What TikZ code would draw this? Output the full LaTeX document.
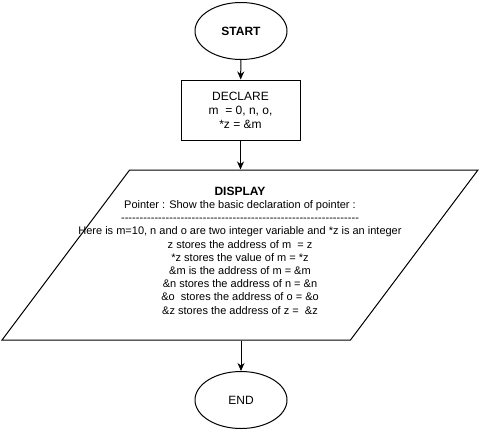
\documentclass[tikz,border=0pt]{standalone}
\usepackage{fontspec}
\setmainfont{Liberation Sans}
\usetikzlibrary{shapes.geometric}
\usetikzlibrary{arrows.meta}

\newcommand\dashrow{\hbox to 238pt{\xleaders\hbox{-}\hfill}}

\begin{document}
\begin{tikzpicture}[x=1pt,y=-1pt,line width=1pt,
  every node/.style={font=\fontsize{12}{13.2}\selectfont},
  terminal/.style={ellipse, draw, minimum width=92pt, minimum height=57pt, inner sep=0pt},
  process/.style={rectangle, draw, minimum width=119pt, minimum height=60pt, align=center, font=\fontsize{12}{14}\selectfont},
  io/.style={trapezium, draw, trapezium left angle=60, trapezium right angle=120, trapezium stretches=true, minimum width=476pt, minimum height=170pt},
  iotext/.style={anchor=center, align=center, font=\fontsize{11}{13.2}\selectfont},
  flow/.style={-{Stealth[length=8pt,width=7pt,inset=2.5pt]}}]
\useasboundingbox (0,0) rectangle (481,431);

\node[terminal] (start) at (241,31) {\bfseries START};
\node[process] (declare) at (240.5,110) {DECLARE\\m~~= 0, n, o,\\*z = \&m};
\node[io] (display) at (240,255) {};
\node[iotext] (displaytext) at (240,250.5) {{\fontsize{12}{13.2}\selectfont\bfseries DISPLAY}\\
 Pointer : Show the basic declaration of pointer :\\
\dashrow\\
Here is m=10, n and o are two integer variable and *z is an integer\\
z stores the address of m~~= z\\
*z stores the value of m = *z\\
\&m is the address of m = \&m\\
\&n stores the address of n = \&n\\
\&o~~stores the address of o = \&o\\
\&z stores the address of z =~~\&z};
\node[terminal] (end) at (241,400) {END};

% connectors
\draw[flow] (start) -- (declare);
\draw[flow] (declare.south) -- (declare.south |- display.north);
\draw[flow] (end.north |- display.south) -- (end);
\end{tikzpicture}
\end{document}
